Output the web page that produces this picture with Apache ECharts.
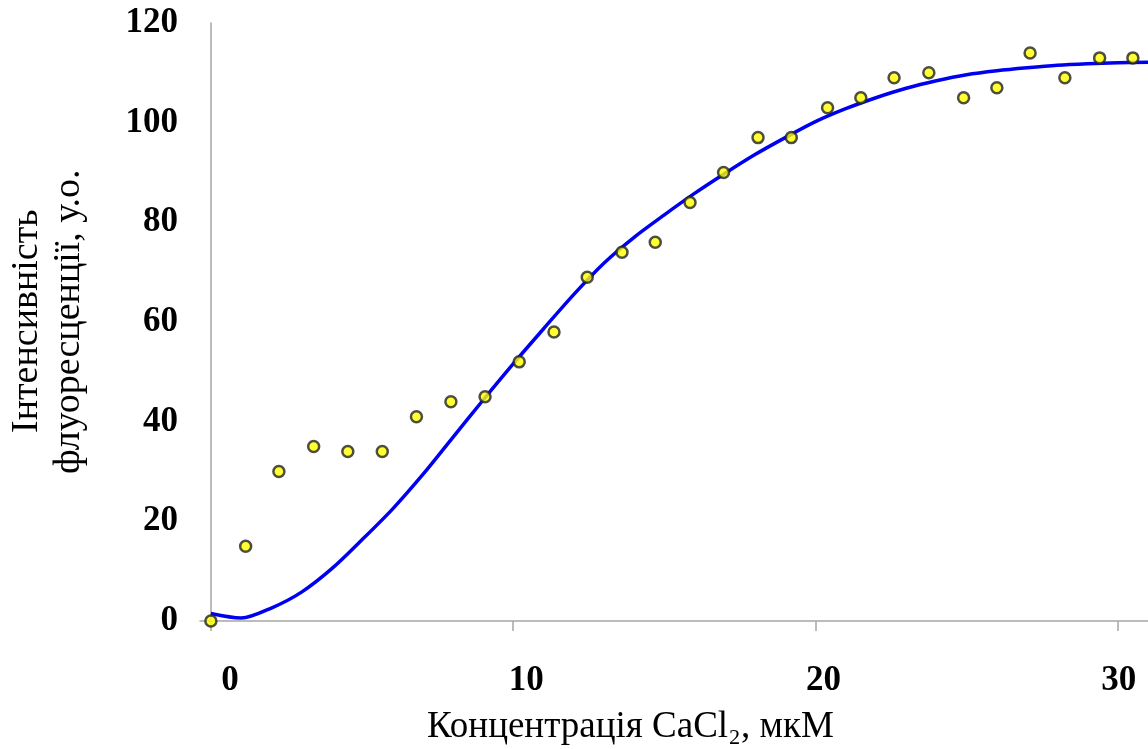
<!DOCTYPE html>
<html>
<head>
<meta charset="utf-8">
<title>Інтенсивність флуоресценції</title>
<script src="https://cdn.jsdelivr.net/npm/echarts@6/dist/echarts.min.js"></script>
<style>
    html, body { margin: 0; padding: 0; background: #fff; }
    #chart { width: 1148px; height: 749px; }
</style>
</head>
<body>
<div id="chart"></div>
<script>
    // експериментальні точки
    var concX = [0, 1.15, 2.25, 3.4, 4.53, 5.67, 6.8, 7.94, 9.07, 10.2, 11.35, 12.45, 13.6, 14.7,
        15.85, 16.96, 18.1, 19.2, 20.4, 21.5, 22.6, 23.75, 24.9, 26.0, 27.1, 28.25, 29.4, 30.5];
    var intensity = [0, 15, 30, 35, 34, 34, 41, 44, 45, 52, 58, 69, 74, 76,
        84, 90, 97, 97, 103, 105, 109, 110, 105, 107, 114, 109, 113, 113];

    // апроксимуюча крива
    var fitX = [0, 1, 2, 3, 4, 5, 6, 7, 8, 9, 10, 11, 12, 13, 14, 15,
        16, 17, 18, 19, 20, 21, 22, 23, 24, 25, 26, 27, 28, 29, 30, 31];
    var fitY = [1.5, 0.6, 2.6, 5.8, 10.5, 16.3, 22.4, 29.3, 36.8, 44.3, 51.6, 58.6, 65.5, 71.8, 77.0, 81.5,
        85.8, 89.8, 93.6, 97.0, 100.2, 102.8, 105.0, 106.9, 108.4, 109.6, 110.4, 111.0, 111.5, 111.8, 112.0, 112.1];

    var yTicks = [0, 20, 40, 60, 80, 100, 120];

    function zip(a, b) {
        var out = [];
        for (var i = 0; i < a.length; i++) out.push([a[i], b[i]]);
        return out;
    }

    var chart = echarts.init(document.getElementById('chart'));

    var serif = '"Liberation Serif", "Times New Roman", serif';
    var axisGrey = '#a6a6a6';

    // підписи осі X трохи зсунуті праворуч, як в оригіналі
    var xLabelRich = {
        l0: { padding: [0, 0, 0, 38] },
        l10: { padding: [0, 0, 0, 26] },
        l20: { padding: [0, 0, 0, 16] },
        l30: { padding: [0, 0, 0, 2] }
    };

    var option = {
        animation: false,
        grid: {
            left: 200,
            right: 0,
            top: 23,
            bottom: 128
        },
        xAxis: {
            type: 'value',
            min: -0.36,
            max: 31,
            splitNumber: 3,
            splitLine: { show: false },
            axisLine: { onZero: false, lineStyle: { color: axisGrey, width: 1.5 } },
            axisTick: { show: true, length: 10, lineStyle: { color: axisGrey, width: 1.5 } },
            axisLabel: {
                margin: 42,
                showMinLabel: false,
                showMaxLabel: false,
                fontFamily: serif,
                fontWeight: 'bold',
                fontSize: 35,
                color: '#000',
                formatter: function(v) {
                    return '{l' + v + '|' + v + '}';
                },
                rich: xLabelRich
            }
        },
        yAxis: {
            type: 'value',
            min: yTicks[0],
            max: yTicks[yTicks.length - 1],
            interval: 20,
            splitLine: { show: false },
            axisLine: { show: true, onZero: true, lineStyle: { color: axisGrey, width: 1.5 } },
            axisTick: { show: false },
            axisLabel: {
                margin: 22,
                fontFamily: serif,
                fontWeight: 'bold',
                fontSize: 35,
                color: '#000'
            }
        },
        graphic: [{
            type: 'text',
            left: 427,
            top: 709,
            style: {
                text: 'Концентрація CaCl₂, мкМ',
                font: '37px ' + serif,
                fill: '#000'
            }
        }, {
            type: 'text',
            x: 8,
            y: 433,
            rotation: Math.PI / 2,
            style: {
                text: 'Інтенсивність',
                font: '38px ' + serif,
                fill: '#000'
            }
        }, {
            type: 'text',
            x: 50,
            y: 474,
            rotation: Math.PI / 2,
            style: {
                text: 'флуоресценції, у.о.',
                font: '38px ' + serif,
                fill: '#000'
            }
        }],
        series: [{
            name: 'fit',
            type: 'line',
            data: zip(fitX, fitY),
            smooth: 0.3,
            showSymbol: false,
            lineStyle: { color: '#0000f0', width: 3.5 },
            z: 2
        }, {
            name: 'data',
            type: 'scatter',
            data: zip(concX, intensity),
            symbol: 'circle',
            symbolSize: 11,
            itemStyle: { color: '#ffff00', borderColor: '#222', borderWidth: 2.5 },
            z: 3
        }]
    };

    chart.setOption(option);
</script>
</body>
</html>
